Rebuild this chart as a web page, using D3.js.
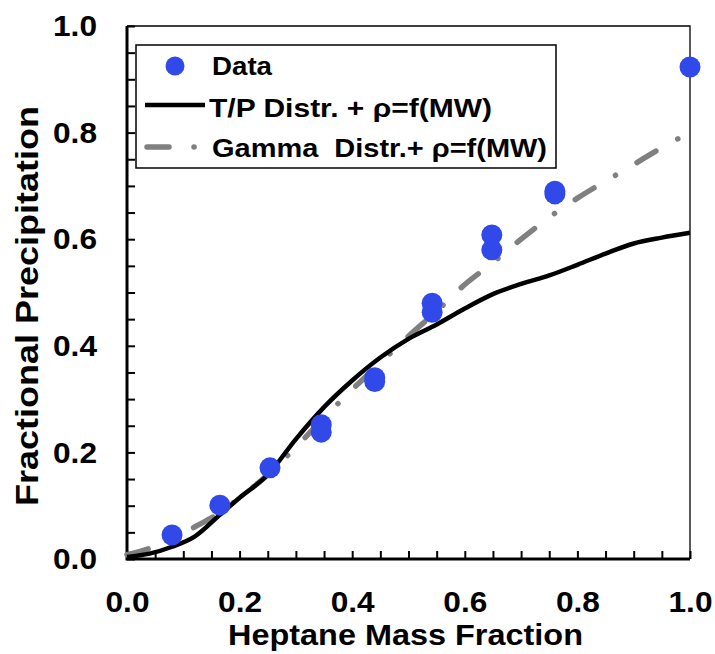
<!DOCTYPE html>
<html>
<head>
<meta charset="utf-8">
<script src="https://cdn.jsdelivr.net/npm/d3@7"></script>
<style>
  html, body { margin: 0; padding: 0; background: #fff; }
  svg { display: block; }
  text { font-family: "Liberation Sans", Arial, sans-serif; font-weight: bold; fill: #000; }
</style>
</head>
<body>
<svg id="chart" width="715" height="654"></svg>
<script>
// ---- Data ----
const dataX = [0.08, 0.165, 0.254, 0.345, 0.345, 0.44, 0.44, 0.542, 0.542, 0.648, 0.648, 0.76, 0.76, 1.0];
const dataY = [0.045, 0.101, 0.171, 0.252, 0.238, 0.34, 0.333, 0.48, 0.463, 0.608, 0.58, 0.69, 0.685, 0.923];

const tpX = [0, 0.04, 0.08, 0.12, 0.165, 0.2, 0.25, 0.3, 0.35, 0.4, 0.45, 0.5, 0.55, 0.6, 0.65, 0.7, 0.75, 0.8, 0.85, 0.9, 0.95, 1.0];
const tpY = [0.004, 0.01, 0.023, 0.042, 0.083, 0.115, 0.158, 0.225, 0.285, 0.335, 0.378, 0.413, 0.44, 0.47, 0.497, 0.516, 0.532, 0.552, 0.573, 0.592, 0.603, 0.612];

const gammaX = [0, 0.04, 0.08, 0.12, 0.165, 0.2, 0.25, 0.3, 0.35, 0.4, 0.45, 0.5, 0.55, 0.6, 0.65, 0.7, 0.75, 0.8, 0.85, 0.9, 0.95, 1.0];
const gammaY = [0.008, 0.02, 0.038, 0.06, 0.087, 0.115, 0.158, 0.21, 0.265, 0.318, 0.368, 0.418, 0.465, 0.515, 0.556, 0.6, 0.641, 0.677, 0.709, 0.74, 0.772, 0.80];

const xTicks = [0.0, 0.2, 0.4, 0.6, 0.8, 1.0];
const yTicks = [0.0, 0.2, 0.4, 0.6, 0.8, 1.0];
const minorTicks = d3.range(0, 21).map(i => i * 0.05);

const seriesNames = ["Data", "T/P Distr. + \u03C1=f(MW)", "Gamma  Distr.+ \u03C1=f(MW)"];
const xTitle = "Heptane Mass Fraction";
const yTitle = "Fractional Precipitation";

// ---- Layout ----
const svg = d3.select("#chart");
const L = 127, R = 690, T = 26, B = 559;
const x = d3.scaleLinear().domain([0, 1]).range([L, R]);
const y = d3.scaleLinear().domain([0, 1]).range([B, T]);
const blue = "#3149E9", gray = "#808080";
const fmt = d3.format(".1f");

// frame top/right thin
svg.append("path")
  .attr("d", `M${L},${T}H${R}V${B}`)
  .attr("fill", "none").attr("stroke", "#000").attr("stroke-width", 1.3);

// minor ticks (inside)
const gyMinor = svg.append("g").attr("transform", `translate(${L},0)`)
  .call(d3.axisLeft(y).tickValues(minorTicks).tickSize(-8).tickFormat(""));
const gxMinor = svg.append("g").attr("transform", `translate(0,${B})`)
  .call(d3.axisBottom(x).tickValues(minorTicks).tickSize(-8).tickFormat(""));
[gyMinor, gxMinor].forEach(g => {
  g.select(".domain").remove();
  g.selectAll("line").attr("stroke", "#000").attr("stroke-width", 2);
});

// labels
const gyLab = svg.append("g").attr("transform", `translate(${L},0)`)
  .call(d3.axisLeft(y).tickValues(yTicks).tickSize(0).tickPadding(30).tickFormat(fmt));
const gxLab = svg.append("g").attr("transform", `translate(0,${B})`)
  .call(d3.axisBottom(x).tickValues(xTicks).tickSize(0).tickPadding(32).tickFormat(fmt));
[gyLab, gxLab].forEach(g => {
  g.select(".domain").remove();
  g.selectAll("text").attr("font-size", 30).attr("font-weight", "bold")
    .attr("textLength", 44).attr("lengthAdjust", "spacingAndGlyphs")
    .attr("font-family", "Liberation Sans, Arial, sans-serif").attr("fill", "#000");
});

// thick left & bottom axis lines
svg.append("path")
  .attr("d", `M${L},${T}V${B}H${R}`)
  .attr("fill", "none").attr("stroke", "#000").attr("stroke-width", 3);

// curves
const gammaPts = gammaX.map((v, i) => [v, gammaY[i]]);
const tpPts = tpX.map((v, i) => [v, tpY[i]]);
const line = d3.line().x(d => x(d[0])).y(d => y(d[1])).curve(d3.curveMonotoneX);

svg.append("path").datum(gammaPts).attr("d", line)
  .attr("fill", "none").attr("stroke", gray).attr("stroke-width", 5.5)
  .attr("stroke-linecap", "round").attr("stroke-dasharray", "22,25,0.1,25");

svg.append("path").datum(tpPts).attr("d", line)
  .attr("fill", "none").attr("stroke", "#000").attr("stroke-width", 4.5);

// data points
svg.append("g").selectAll("circle").data(dataX.map((v, i) => [v, dataY[i]]))
  .join("circle")
  .attr("cx", d => x(d[0])).attr("cy", d => y(d[1])).attr("r", 10.5)
  .attr("fill", blue);

// legend
const lg = svg.append("g");
lg.append("rect").attr("x", 136).attr("y", 45).attr("width", 420).attr("height", 123)
  .attr("fill", "#fff").attr("stroke", "#000").attr("stroke-width", 1.5);
lg.append("circle").attr("cx", 175).attr("cy", 66).attr("r", 9.5).attr("fill", blue);
lg.append("line").attr("x1", 145).attr("x2", 205).attr("y1", 105).attr("y2", 105)
  .attr("stroke", "#000").attr("stroke-width", 4.5);
lg.append("line").attr("x1", 147).attr("x2", 196).attr("y1", 147).attr("y2", 147)
  .attr("stroke", gray).attr("stroke-width", 5.5).attr("stroke-linecap", "round")
  .attr("stroke-dasharray", "22,25,0.1,25");
const legY = [75, 117, 157];
const legLen = [60, 283, 335];
const legX = [212, 209, 212];
seriesNames.forEach((s, i) => {
  lg.append("text").attr("x", legX[i]).attr("y", legY[i]).attr("font-size", 26)
    .attr("textLength", legLen[i]).attr("lengthAdjust", "spacingAndGlyphs")
    .style("white-space", "pre").text(s);
});

// axis titles
svg.append("text").attr("x", 405.5).attr("y", 645).attr("text-anchor", "middle")
  .attr("font-size", 29).attr("textLength", 355).attr("lengthAdjust", "spacingAndGlyphs")
  .text(xTitle);
svg.append("text").attr("transform", "translate(38,306) rotate(-90)").attr("text-anchor", "middle")
  .attr("font-size", 31).attr("textLength", 400).attr("lengthAdjust", "spacingAndGlyphs")
  .text(yTitle);
</script>
</body>
</html>
